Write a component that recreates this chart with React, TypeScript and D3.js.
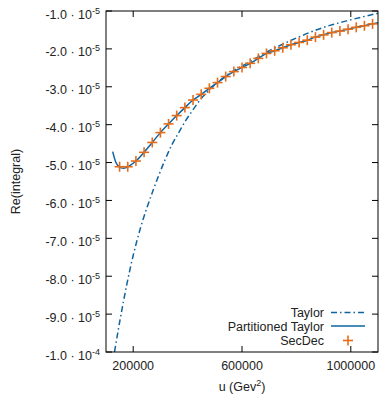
import React from "react";
import * as d3 from "d3";

// Data (u in GeV^2, value in units of 1e-5)
const taylorU = [131250, 151470, 176100, 200370, 225000, 249630, 273900, 292280, 316900, 341540, 365800, 390440, 415070, 445590, 482350, 519120, 568020, 629410, 678310, 739710, 801100, 862130, 923530, 984930, 1045960, 1100000];
const taylorV = [-10.0, -9.16, -8.23, -7.44, -6.77, -6.21, -5.72, -5.37, -4.93, -4.54, -4.23, -3.92, -3.66, -3.35, -3.07, -2.83, -2.58, -2.34, -2.13, -1.91, -1.71, -1.53, -1.38, -1.26, -1.15, -1.06];

const partU = [124600, 135000, 145000, 155000, 165000, 175000, 190000, 210000, 240000, 270000, 300000, 330000, 360000, 390000, 420000, 450000, 480000, 510000, 540000, 570000, 600000, 630000, 660000, 690000, 720000, 750000, 780000, 810000, 840000, 870000, 900000, 930000, 960000, 990000, 1020000, 1050000, 1080000, 1100000];
const partV = [-4.71, -4.97, -5.09, -5.14, -5.15, -5.13, -5.07, -4.96, -4.73, -4.47, -4.21, -3.98, -3.76, -3.55, -3.35, -3.2, -3.04, -2.89, -2.73, -2.6, -2.49, -2.38, -2.25, -2.12, -2.05, -1.97, -1.89, -1.83, -1.77, -1.69, -1.63, -1.57, -1.53, -1.48, -1.43, -1.39, -1.34, -1.31];

const secU = [150000, 180000, 210000, 240000, 270000, 300000, 330000, 360000, 390000, 420000, 450000, 480000, 510000, 540000, 570000, 600000, 630000, 660000, 690000, 720000, 750000, 780000, 810000, 840000, 870000, 900000, 930000, 960000, 990000, 1020000, 1050000, 1080000];
const secV = [-5.11, -5.11, -4.96, -4.73, -4.47, -4.21, -3.98, -3.76, -3.55, -3.35, -3.2, -3.04, -2.89, -2.73, -2.6, -2.49, -2.38, -2.25, -2.12, -2.05, -1.97, -1.89, -1.83, -1.77, -1.69, -1.63, -1.57, -1.53, -1.48, -1.43, -1.39, -1.34];

const xTicks = [200000, 600000, 1000000];
const yTicks = [-1, -2, -3, -4, -5, -6, -7, -8, -9, -10];
const yTickMant = ["-1.0", "-2.0", "-3.0", "-4.0", "-5.0", "-6.0", "-7.0", "-8.0", "-9.0", "-1.0"];
const yTickExp = ["-5", "-5", "-5", "-5", "-5", "-5", "-5", "-5", "-5", "-4"];

const legendLabels = ["Taylor", "Partitioned Taylor", "SecDec"];

const BLUE = "#0f64a0";
const ORANGE = "#e66c1a";
const FONT = "'Liberation Sans', Arial, sans-serif";

export default function App() {
  const W = 379, H = 396;
  const L = 106, R = 378, T = 11, B = 352;
  const x = d3.scaleLinear().domain([100000, 1100000]).range([L, R]);
  const y = d3.scaleLinear().domain([-1, -10]).range([T, B]);

  const line = d3
    .line<[number, number]>()
    .x((d) => x(d[0]))
    .y((d) => y(d[1]))
    .curve(d3.curveMonotoneX);

  const taylorPath = line(taylorU.map((u, i) => [u, taylorV[i]]))!;
  const partPath = line(partU.map((u, i) => [u, partV[i]]))!;
  const tick = 6;
  const cs = 5;

  const plus = (cx: number, cy: number, key: string) => (
    <g key={key} stroke={ORANGE} strokeWidth={1.6}>
      <line x1={cx - cs} x2={cx + cs} y1={cy} y2={cy} />
      <line x1={cx} x2={cx} y1={cy - cs} y2={cy + cs} />
    </g>
  );

  const legY = [312.5, 326, 340.5];

  return (
    <svg width={W} height={H} style={{ position: "absolute", left: 0, top: 0 }} fontFamily={FONT}>
      <rect width={W} height={H} fill="white" />
      <defs>
        <clipPath id="plotclip">
          <rect x={L} y={T} width={R - L} height={B - T} />
        </clipPath>
      </defs>
      {/* ticks */}
      <g stroke="black" strokeWidth={1}>
        {yTicks.map((v, i) => (
          <g key={"yt" + i}>
            <line x1={L} x2={L + tick} y1={y(v)} y2={y(v)} />
            <line x1={R - tick} x2={R} y1={y(v)} y2={y(v)} />
          </g>
        ))}
        {xTicks.map((v, i) => (
          <g key={"xt" + i}>
            <line x1={x(v)} x2={x(v)} y1={B} y2={B - tick} />
            <line x1={x(v)} x2={x(v)} y1={T} y2={T + tick} />
          </g>
        ))}
      </g>
      {/* curves */}
      <g clipPath="url(#plotclip)" fill="none">
        <path d={taylorPath} stroke={BLUE} strokeWidth={1.5} strokeDasharray="6,3,1.5,3" />
        <path d={partPath} stroke={BLUE} strokeWidth={1.5} />
        {secU.map((u, i) => plus(x(u), y(secV[i]), "p" + i))}
      </g>
      {/* frame */}
      <rect x={L} y={T} width={R - L} height={B - T} fill="none" stroke="black" strokeWidth={1} />
      {/* y tick labels */}
      <g fontSize={12.5} fill="#222">
        {yTicks.map((v, i) => (
          <text key={"yl" + i} x={100} y={y(v) + 7.5} textAnchor="end">
            {yTickMant[i] + " \u00B7 10"}
            <tspan fontSize={9} dy={-5}>{yTickExp[i]}</tspan>
          </text>
        ))}
        {xTicks.map((v, i) => (
          <text key={"xl" + i} x={x(v)} y={370} textAnchor="middle">
            {d3.format("d")(v)}
          </text>
        ))}
        <text x={(L + R) / 2} y={391} textAnchor="middle">
          u (Gev<tspan fontSize={9} dy={-5}>2</tspan>
          <tspan dy={5}>)</tspan>
        </text>
        <text transform={`translate(20,${(T + B) / 2}) rotate(-90)`} textAnchor="middle">
          Re(integral)
        </text>
      </g>
      {/* legend */}
      <g fontSize={12.5} fill="#222">
        {legendLabels.map((s, i) => (
          <text key={"lg" + i} x={324} y={legY[i] + 4.5} textAnchor="end">
            {s}
          </text>
        ))}
      </g>
      <line x1={331} x2={365} y1={legY[0]} y2={legY[0]} stroke={BLUE} strokeWidth={1.5} strokeDasharray="6,3,1.5,3" />
      <line x1={331} x2={365} y1={legY[1]} y2={legY[1]} stroke={BLUE} strokeWidth={1.5} />
      {plus(348, legY[2], "legplus")}
    </svg>
  );
}
